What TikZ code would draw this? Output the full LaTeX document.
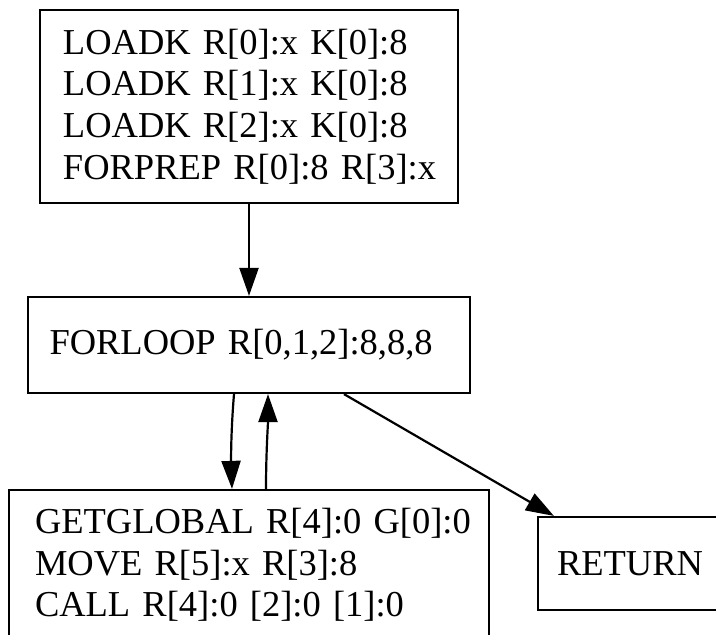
\documentclass[tikz,border=0pt]{standalone}
\usepackage{fontspec}
\setmainfont{Liberation Serif}
\usetikzlibrary{arrows.meta}
\tikzset{
  blk/.style={draw, line width=2.2pt, rectangle, inner sep=0pt, align=left,
    font=\fontsize{36.5}{41.7}\selectfont},
  edge/.style={line width=2.2pt, -{Triangle[length=28pt,width=19pt]}}
}
\begin{document}
\begin{tikzpicture}[x=1pt,y=-1pt]
\useasboundingbox (0,0) rectangle (716,635);
\node[blk, minimum width=418pt, minimum height=193pt, text width=372pt] (top) at (249,106.5)
  {\mbox{LOADK R[0]:x K[0]:8}\\\mbox{LOADK R[1]:x K[0]:8}\\\mbox{LOADK R[2]:x K[0]:8}\\\mbox{FORPREP R[0]:8 R[3]:x}};
\node[blk, minimum width=442pt, minimum height=96pt, text width=399pt] (mid) at (249,345)
  {\mbox{FORLOOP R[0,1,2]:8,8,8}};
\node[blk, minimum width=480pt, minimum height=150pt, text width=428pt] (bot) at (249,565)
  {\mbox{GETGLOBAL R[4]:0 G[0]:0}\\\mbox{MOVE R[5]:x R[3]:8}\\\mbox{CALL R[4]:0 [2]:0 [1]:0}};
\node[blk, minimum width=184pt, minimum height=93pt] (ret) at (630,563.5)
  {RETURN};
\draw[edge] (top.south) -- (mid.north);
\draw[edge] ([xshift=-15pt]mid.south) .. controls ([xshift=-18pt,yshift=-36pt]mid.south) and ([xshift=-18pt,yshift=30pt]bot.north) .. ([xshift=-17pt]bot.north);
\draw[edge] ([xshift=17pt]bot.north) .. controls ([xshift=17pt,yshift=36pt]bot.north) and ([xshift=19pt,yshift=-30pt]mid.south) .. ([xshift=19pt]mid.south);
\draw[edge] ([xshift=95pt]mid.south) -- ([xshift=17pt]ret.north west);
\end{tikzpicture}
\end{document}
